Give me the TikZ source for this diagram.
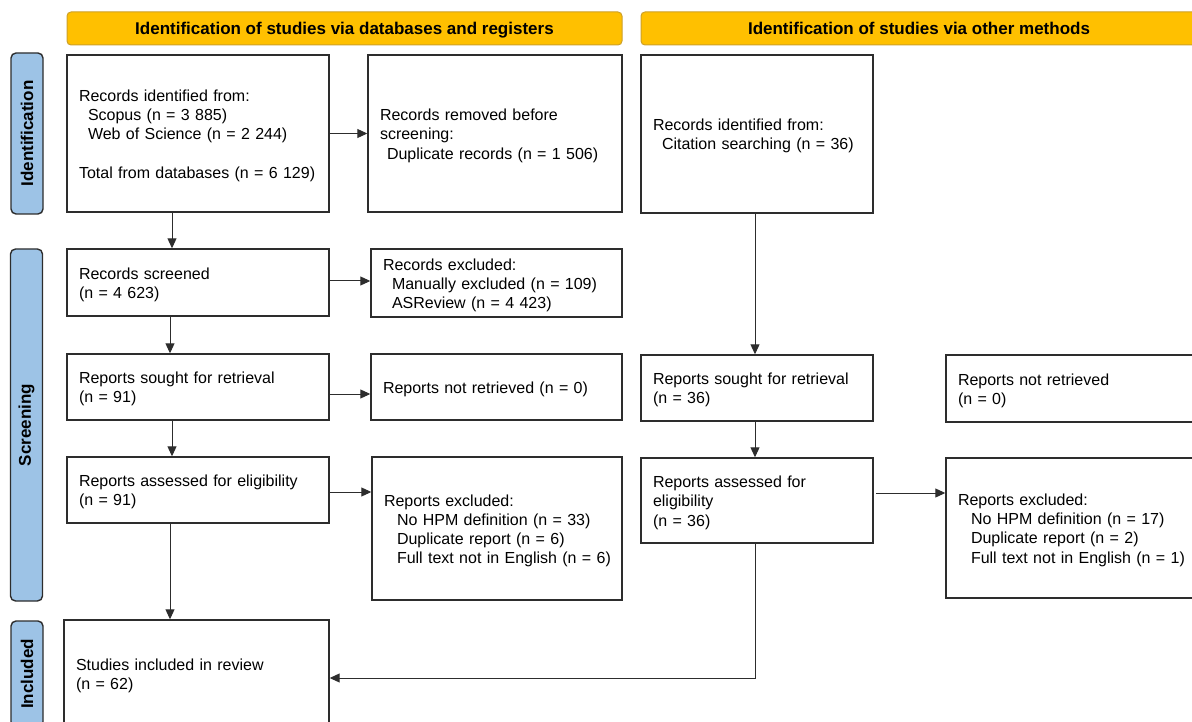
\documentclass[tikz,border=0pt]{standalone}
\usepackage{fontspec}
\setmainfont{Liberation Sans}
\usetikzlibrary{arrows.meta}
\definecolor{hdfill}{RGB}{255,192,0}
\definecolor{hddraw}{RGB}{205,160,40}
\definecolor{barfill}{RGB}{157,195,230}
\definecolor{lineclr}{RGB}{45,45,45}
\newcommand\boxlines[1]{\begin{tabular}{@{}l@{}}\rule{0pt}{18.5pt}#1\end{tabular}}
\tikzset{
  box/.style={draw=lineclr, line width=1.4pt, inner xsep=12pt, inner ysep=0pt,
    align=left, font=\fontsize{16}{19.2}\selectfont},
  hdr/.style={draw=hddraw, fill=hdfill, line width=1pt, rounded corners=4pt,
    minimum height=33pt, text height=12.5pt, text depth=0pt,
    font=\bfseries\fontsize{17}{20}\selectfont},
  sidebar/.style={draw=lineclr, fill=barfill, line width=1.4pt, rounded corners=5pt,
    minimum height=32pt, rotate=90, font=\bfseries\fontsize{17}{20}\selectfont},
  arr/.style={draw=lineclr, line width=1pt, -{Triangle[length=10pt,width=9pt]}}
}
\begin{document}
\begin{tikzpicture}[x=1pt,y=-1pt]
\useasboundingbox (0,0) rectangle (1192,722);
\clip (0,0) rectangle (1192,722);
% headers
\node[hdr, minimum width=555pt] (hd1) at (344.5,28.5) {Identification of studies via databases and registers};
\node[hdr, minimum width=556pt] (hd2) at (919,28.5) {Identification of studies via other methods};
% side bars
\node[sidebar, minimum width=161pt] (sid) at (27,133.5) {Identification};
\node[sidebar, minimum width=352pt] (sscr) at (26.5,425) {Screening};
\node[sidebar, minimum width=106pt] (sinc) at (27,674) {Included};
% left column
\node[box, minimum width=262pt, minimum height=157pt, text width=238pt] (A1) at (198,133.5)
  {\boxlines{Records identified from:\\\hspace*{9pt}Scopus (n = 3 885)\\\hspace*{9pt}Web of Science (n = 2 244)\\ \\Total from databases (n = 6 129)}};
\node[box, minimum width=254pt, minimum height=157pt, text width=230pt] (A2) at (495,133.5)
  {\boxlines{Records removed before\\screening:\\\hspace*{7pt}Duplicate records (n = 1 506)}};
\node[box, minimum width=262pt, minimum height=67pt, text width=238pt] (B1) at (198,282.5)
  {\boxlines{Records screened\\(n = 4 623)}};
\node[box, minimum width=251pt, minimum height=68pt, text width=227pt] (B2) at (496.5,283)
  {\boxlines{Records excluded:\\\hspace*{9pt}Manually excluded (n = 109)\\\hspace*{9pt}ASReview (n = 4 423)}};
\node[box, minimum width=262pt, minimum height=66pt, text width=238pt] (C1) at (198,387)
  {\boxlines{Reports sought for retrieval\\(n = 91)}};
\node[box, minimum width=251pt, minimum height=66pt, text width=227pt] (C2) at (496.5,387)
  {\boxlines{Reports not retrieved (n = 0)}};
\node[box, minimum width=262pt, minimum height=66pt, text width=238pt] (D1) at (198,490)
  {\boxlines{Reports assessed for eligibility\\(n = 91)}};
\node[box, minimum width=250pt, minimum height=143pt, text width=226pt] (D2) at (497,528.5)
  {\boxlines{Reports excluded:\\\hspace*{13pt}No HPM definition (n = 33)\\\hspace*{13pt}Duplicate report (n = 6)\\\hspace*{13pt}Full text not in English (n = 6)}};
\node[box, minimum width=265pt, minimum height=108pt, text width=241pt] (E1) at (196.5,674)
  {\boxlines{Studies included in review\\(n = 62)}};
% right column
\node[box, minimum width=232pt, minimum height=158pt, text width=208pt] (F1) at (757,134)
  {\boxlines{Records identified from:\\\hspace*{9pt}Citation searching (n = 36)}};
\node[box, minimum width=232pt, minimum height=66pt, text width=208pt] (G1) at (757,388)
  {\boxlines{Reports sought for retrieval\\(n = 36)}};
\node[box, minimum width=254pt, minimum height=67pt, text width=230pt] (G2) at (1073,388.5)
  {\boxlines{Reports not retrieved\\(n = 0)}};
\node[box, minimum width=232pt, minimum height=85pt, text width=208pt] (H1) at (757,500.5)
  {\boxlines{Reports assessed for\\eligibility\\(n = 36)}};
\node[box, minimum width=254pt, minimum height=140pt, text width=230pt] (H2) at (1073,528)
  {\boxlines{Reports excluded:\\\hspace*{13pt}No HPM definition (n = 17)\\\hspace*{13pt}Duplicate report (n = 2)\\\hspace*{13pt}Full text not in English (n = 1)}};
% helper coordinates
\coordinate (xa) at (172,0);
\coordinate (xb) at (170,0);
\coordinate (xf) at (755,0);
\coordinate (yb) at (0,281);
\coordinate (yc) at (0,394);
\coordinate (yd) at (0,492);
\coordinate (ye) at (0,678);
\coordinate (h1o) at (876,493);
% connectors
\draw[arr] (A1.east) -- (A2.west);
\draw[arr] (A1.south -| xa) -- (B1.north -| xa);
\draw[arr] (B1.east |- yb) -- (B2.west |- yb);
\draw[arr] (B1.south -| xb) -- (C1.north -| xb);
\draw[arr] (C1.east |- yc) -- (C2.west |- yc);
\draw[arr] (C1.south -| xa) -- (D1.north -| xa);
\draw[arr] (D1.east |- yd) -- (D2.west |- yd);
\draw[arr] (D1.south -| xb) -- (E1.north -| xb);
\draw[arr] (F1.south -| xf) -- (G1.north -| xf);
\draw[arr] (G1.south -| xf) -- (H1.north -| xf);
\draw[arr] (h1o) -- (h1o -| H2.west);
\draw[arr] (H1.south -| xf) -- (xf |- ye) -- (E1.east |- ye);
\end{tikzpicture}
\end{document}
